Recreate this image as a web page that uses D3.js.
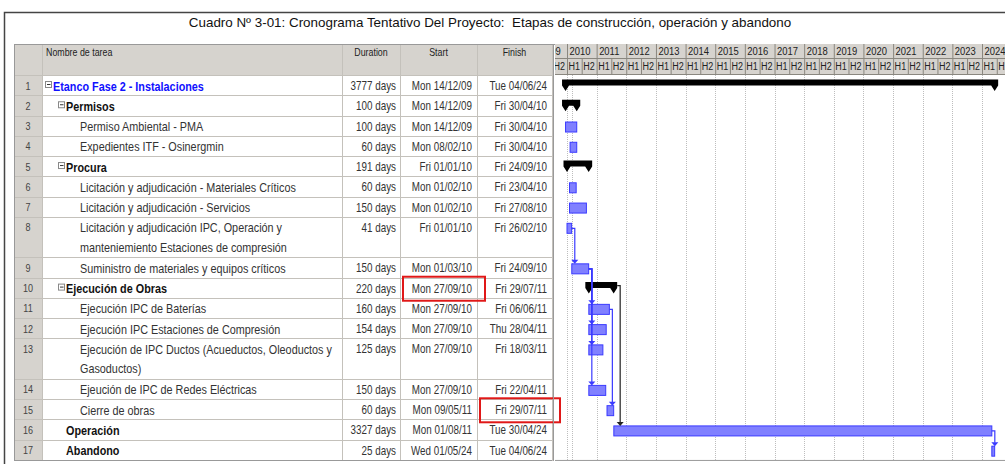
<!DOCTYPE html>
<html>
<head>
<meta charset="utf-8">
<script src="https://cdn.jsdelivr.net/npm/d3@7"></script>
<style>
  body { margin: 0; background: #fff; }
  svg text { font-family: "Liberation Sans", Arial, sans-serif; }
</style>
</head>
<body>
<div id="chart"></div>
<script>
// task table data
const ids = d3.range(1, 18);
const names = [
  ['Etanco Fase 2 - Instalaciones'],
  ['Permisos'],
  ['Permiso Ambiental - PMA'],
  ['Expedientes ITF - Osinergmin'],
  ['Procura'],
  ['Licitación y adjudicación - Materiales Críticos'],
  ['Licitación y adjudicación - Servicios'],
  ['Licitación y adjudicación IPC, Operación y', 'manteniemiento Estaciones de compresión'],
  ['Suministro de materiales y equipos críticos'],
  ['Ejecución de Obras'],
  ['Ejecución IPC de Baterías'],
  ['Ejecución IPC Estaciones de Compresión'],
  ['Ejecución de IPC Ductos (Acueductos, Oleoductos y', 'Gasoductos)'],
  ['Ejeución de IPC de Redes Eléctricas'],
  ['Cierre de obras'],
  ['Operación'],
  ['Abandono']
];
const levels = [0, 1, 2, 2, 1, 2, 2, 2, 2, 1, 2, 2, 2, 2, 2, 1, 1];
const kinds = ['summary', 'summary', 'task', 'task', 'summary', 'task', 'task', 'task', 'task',
  'summary', 'task', 'task', 'task', 'task', 'task', 'task', 'task'];
const durations = ['3777 days', '100 days', '100 days', '60 days', '191 days', '60 days', '150 days', '41 days',
  '150 days', '220 days', '160 days', '154 days', '125 days', '150 days', '60 days', '3327 days', '25 days'];
const starts = ['Mon 14/12/09', 'Mon 14/12/09', 'Mon 14/12/09', 'Mon 08/02/10', 'Fri 01/01/10', 'Mon 01/02/10',
  'Mon 01/02/10', 'Fri 01/01/10', 'Mon 01/03/10', 'Mon 27/09/10', 'Mon 27/09/10', 'Mon 27/09/10',
  'Mon 27/09/10', 'Mon 27/09/10', 'Mon 09/05/11', 'Mon 01/08/11', 'Wed 01/05/24'];
const finishes = ['Tue 04/06/24', 'Fri 30/04/10', 'Fri 30/04/10', 'Fri 30/04/10', 'Fri 24/09/10', 'Fri 23/04/10',
  'Fri 27/08/10', 'Fri 26/02/10', 'Fri 24/09/10', 'Fri 29/07/11', 'Fri 06/06/11', 'Thu 28/04/11',
  'Fri 18/03/11', 'Fri 22/04/11', 'Fri 29/07/11', 'Tue 30/04/24', 'Tue 04/06/24'];
// finish-to-start links [from id, to id]
const links = [[8, 9], [9, 11], [9, 12], [9, 13], [9, 14], [11, 15], [10, 16], [16, 17]];
const years = d3.range(2009, 2025);
const highlighted = [[10, 'start'], [15, 'finish']];

const width = 1005, height = 466;
const parse = d3.timeParse('%a %d/%m/%y');

const svg = d3.select('#chart').append('svg')
  .attr('width', width).attr('height', height);

// condensed text (no Arial Narrow installed, so squeeze Liberation Sans)
const squeeze = 0.82;
function label(parent, x, y, txt, size, anchor) {
  return parent.append('text')
    .attr('transform', `translate(${x},${y}) scale(${squeeze},1)`)
    .attr('text-anchor', anchor || 'start')
    .style('font-size', size + 'px')
    .text(txt);
}

// outer frame + title
svg.append('path')
  .attr('d', 'M4.5,464 V12.5 H1005')
  .attr('fill', 'none').attr('stroke', '#444').attr('stroke-width', 1.5);
svg.append('text')
  .attr('x', 490).attr('y', 26.5)
  .attr('text-anchor', 'middle')
  .attr('xml:space', 'preserve')
  .style('white-space', 'pre')
  .style('font-size', '13.4px').attr('fill', '#111')
  .text('Cuadro Nº 3-01: Cronograma Tentativo Del Proyecto:  Etapas de construcción, operación y abandono');

// table geometry
const cols = {id: [14, 42], name: [42, 342], dur: [342, 400], start: [400, 477], finish: [477, 552]};
const headTop = 44, headBot = 75, unit = 20.26;
const rowTops = [];
let acc = headBot + 1;
names.forEach(n => { rowTops.push(acc); acc += n.length * unit; });
const tableBot = acc;

// header background
svg.append('rect').attr('x', 14).attr('y', headTop).attr('width', 538).attr('height', headBot - headTop)
  .attr('fill', '#d6d3ce');
svg.append('rect').attr('x', 14).attr('y', headBot).attr('width', 28).attr('height', tableBot - headBot)
  .attr('fill', '#d6d3ce');

const head = svg.append('g').attr('fill', '#222');
label(head, 46, headTop + 12, 'Nombre de tarea', 10.8);
[['Duration', cols.dur], ['Start', cols.start], ['Finish', cols.finish]].forEach(([t, c]) => {
  label(head, (c[0] + c[1]) / 2, headTop + 12, t, 10.8, 'middle');
});

// grid lines of the table
const grid = svg.append('g').attr('stroke', '#c4c1bb').attr('stroke-width', 1);
[42, 342, 400, 477, 552].forEach(x => {
  grid.append('line').attr('x1', x + 0.5).attr('x2', x + 0.5).attr('y1', headTop).attr('y2', tableBot);
});
rowTops.concat([tableBot]).forEach((y, i) => {
  grid.append('line').attr('x1', 14).attr('x2', 552).attr('y1', Math.round(y) - 0.5).attr('y2', Math.round(y) - 0.5)
    .attr('stroke', i === rowTops.length ? '#999' : '#c4c1bb');
});
grid.append('line').attr('x1', 14.5).attr('x2', 14.5).attr('y1', headTop).attr('y2', tableBot).attr('stroke', '#999');
grid.append('line').attr('x1', 14).attr('x2', 1005).attr('y1', headTop + 0.5).attr('y2', headTop + 0.5).attr('stroke', '#999');

// rows
const rows = svg.append('g');
names.forEach((lines, i) => {
  const y = rowTops[i];
  const g = rows.append('g').attr('transform', `translate(0,${y})`);
  const lvl = levels[i];
  const bold = kinds[i] === 'summary' || lvl < 2;
  label(g, 28, 13.5, ids[i], 11, 'middle').attr('fill', '#444');
  const tx = lvl === 0 ? 53 : lvl === 1 ? 66 : 80;
  if (kinds[i] === 'summary') {
    const bx = lvl === 0 ? 45 : 58;
    g.append('rect').attr('x', bx + 0.5).attr('y', 5.5).attr('width', 6).attr('height', 6)
      .attr('fill', '#fff').attr('stroke', '#888');
    g.append('line').attr('x1', bx + 2).attr('x2', bx + 5.5).attr('y1', 8.5).attr('y2', 8.5).attr('stroke', '#333');
  }
  lines.forEach((t, k) => {
    label(g, tx, 14.5 + k * 19.5, t, 13.2)
      .style('font-weight', bold ? 'bold' : 'normal')
      .attr('fill', lvl === 0 ? '#1010ff' : bold ? '#111' : '#333');
  });
  const cell = g.append('g').attr('fill', '#333');
  label(cell, cols.dur[1] - 4, 14, durations[i], 12, 'end');
  label(cell, cols.start[1] - 5, 14, starts[i], 12, 'end');
  label(cell, cols.finish[1] - 5, 14, finishes[i], 12, 'end');
});

// red highlight boxes
highlighted.forEach(([id, col]) => {
  const i = id - 1;
  const c = cols[col];
  const yc = rowTops[i] + unit / 2;
  svg.append('rect').attr('x', c[0] + 3).attr('y', yc - 12).attr('width', c[1] - c[0] + 5).attr('height', 24)
    .attr('fill', 'none').attr('stroke', '#e01818').attr('stroke-width', 2);
});

// gantt time scale
const gx0 = 555;
const x = d3.scaleTime()
  .domain([new Date(2010, 0, 1), new Date(2024, 0, 1)])
  .range([567, 982]);

svg.append('defs').append('clipPath').attr('id', 'gclip')
  .append('rect').attr('x', gx0).attr('y', headTop).attr('width', width - gx0).attr('height', height - headTop);
const gantt = svg.append('g').attr('clip-path', 'url(#gclip)');

// timescale header
gantt.append('rect').attr('x', gx0).attr('y', headTop).attr('width', width - gx0).attr('height', headBot - headTop)
  .attr('fill', '#d6d3ce');
const hdr = gantt.append('g').attr('fill', '#222');
years.forEach(yr => {
  const x0 = x(new Date(yr, 0, 1)), xm = x(new Date(yr, 6, 1));
  hdr.append('line').attr('x1', x0 + 0.5).attr('x2', x0 + 0.5).attr('y1', headTop).attr('y2', headBot)
    .attr('stroke', '#8a877f');
  hdr.append('line').attr('x1', xm + 0.5).attr('x2', xm + 0.5).attr('y1', headTop + 14).attr('y2', headBot)
    .attr('stroke', '#8a877f');
  label(hdr, x0 + 2.5, headTop + 11, yr, 11.5);
  label(hdr, x0 + 1.5, headTop + 26, 'H1', 11);
  label(hdr, xm + 1.5, headTop + 26, 'H2', 11);
});
hdr.append('line').attr('x1', gx0).attr('x2', width).attr('y1', headTop + 14.5).attr('y2', headTop + 14.5)
  .attr('stroke', '#8a877f');
hdr.append('line').attr('x1', gx0).attr('x2', width).attr('y1', headBot - 0.5).attr('y2', headBot - 0.5)
  .attr('stroke', '#8a877f');

// vertical dotted gridlines
years.slice(1).forEach(yr => {
  const gxv = Math.round(x(new Date(yr, 0, 1))) + 0.5;
  gantt.append('line').attr('x1', gxv).attr('x2', gxv).attr('y1', headBot).attr('y2', tableBot)
    .attr('stroke', '#bdbdbd').attr('stroke-dasharray', '1,1');
});
const statusX = Math.round(x(new Date(2010, 2, 1))) + 0.5;
gantt.append('line').attr('x1', statusX).attr('x2', statusX).attr('y1', headBot).attr('y2', tableBot)
  .attr('stroke', '#bdbdbd').attr('stroke-dasharray', '1,1');

// gantt frame
svg.append('line').attr('x1', 553.5).attr('x2', 553.5).attr('y1', headTop).attr('y2', tableBot).attr('stroke', '#999');
svg.append('line').attr('x1', 555).attr('x2', width).attr('y1', tableBot - 0.5).attr('y2', tableBot - 0.5).attr('stroke', '#999');

// bars
const bars = gantt.append('g');
const xs = starts.map(s => x(parse(s)));
const xe = finishes.map(s => x(d3.timeDay.offset(parse(s), 1)));
names.forEach((n, i) => {
  const y = rowTops[i];
  if (kinds[i] === 'summary') {
    const a = xs[i] - 3.5, b = xe[i] + 3.5;
    bars.append('path')
      .attr('d', `M${a},${y + 3.5} H${b} V${y + 9.5} L${b - 3.5},${y + 15} L${b - 7},${y + 9.5} H${a + 7} L${a + 3.5},${y + 15} L${a},${y + 9.5} Z`)
      .attr('fill', '#000');
  } else {
    bars.append('rect').attr('x', xs[i]).attr('y', y + 5.5).attr('width', Math.max(2.5, xe[i] - xs[i])).attr('height', 10)
      .attr('fill', '#8080ff').attr('stroke', '#3a3aff').attr('stroke-width', 1);
  }
});

// dependency links
const arrow = (g, ax, ay, col) => g.append('path')
  .attr('d', `M${ax - 3.5},${ay - 4} H${ax + 3.5} L${ax},${ay} Z`).attr('fill', col);
links.forEach(([f, t]) => {
  const i = f - 1, j = t - 1;
  const col = kinds[i] === 'summary' ? '#222' : '#3a3aff';
  const ex = kinds[i] === 'summary' ? xe[i] + 3.5 : xe[i];
  const vx = Math.max(ex + 3, xs[j] + 3);
  const y0 = rowTops[i] + (kinds[i] === 'summary' ? 7 : 10.5);
  const y1 = rowTops[j] + 5;
  bars.append('path').attr('d', `M${ex},${y0} H${vx} V${y1 - 3}`)
    .attr('fill', 'none').attr('stroke', col).attr('stroke-width', 1.2);
  arrow(bars, vx, y1 + 0.5, col);
});
</script>
</body>
</html>
